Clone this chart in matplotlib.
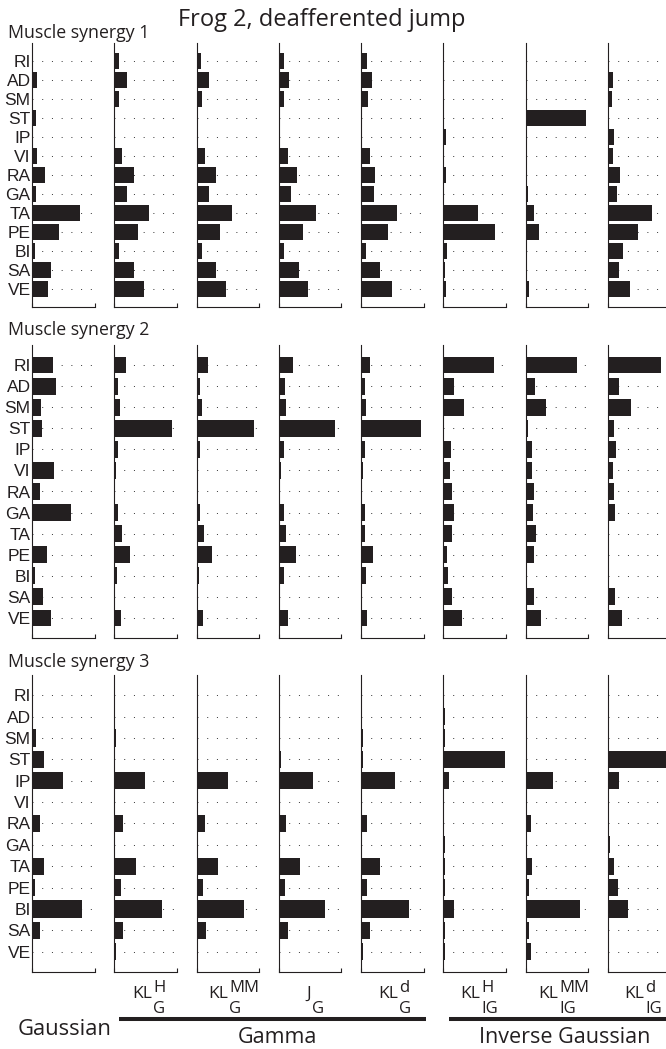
import numpy as np
import matplotlib
matplotlib.use("Agg")
import matplotlib.pyplot as plt

muscles = ["RI", "AD", "SM", "ST", "IP", "VI", "RA", "GA", "TA", "PE", "BI", "SA", "VE"]
methods = ["Gaussian", "KLH_G", "KLMM_G", "J_G", "KLd_G", "KLH_IG", "KLMM_IG", "KLd_IG"]

# synergy weights, one list per method (muscle order as above)
syn1 = [
    [0.005, 0.075, 0.0, 0.06, 0.01, 0.075, 0.20, 0.06, 0.765, 0.43, 0.043, 0.31, 0.26],
    [0.075, 0.21, 0.08, 0.005, 0.005, 0.13, 0.31, 0.20, 0.56, 0.38, 0.075, 0.31, 0.47],
    [0.07, 0.20, 0.08, 0.005, 0.016, 0.13, 0.31, 0.20, 0.57, 0.38, 0.085, 0.31, 0.47],
    [0.08, 0.17, 0.09, 0.005, 0.005, 0.14, 0.29, 0.20, 0.59, 0.39, 0.09, 0.32, 0.47],
    [0.09, 0.17, 0.11, 0.01, 0.01, 0.14, 0.22, 0.20, 0.57, 0.43, 0.075, 0.30, 0.49],
    [0.005, 0.01, 0.005, 0.005, 0.037, 0.01, 0.048, 0.016, 0.55, 0.82, 0.058, 0.02, 0.048],
    [0.02, 0.02, 0.016, 0.96, 0.005, 0.005, 0.005, 0.037, 0.14, 0.22, 0.01, 0.016, 0.053],
    [0.016, 0.085, 0.064, 0.016, 0.106, 0.085, 0.19, 0.15, 0.70, 0.48, 0.24, 0.18, 0.36],
]
syn2 = [
    [0.33, 0.38, 0.14, 0.16, 0.005, 0.35, 0.12, 0.62, 0.005, 0.24, 0.043, 0.175, 0.30],
    [0.19, 0.058, 0.09, 0.925, 0.058, 0.02, 0.005, 0.058, 0.117, 0.245, 0.043, 0.005, 0.10],
    [0.19, 0.058, 0.09, 0.925, 0.053, 0.02, 0.005, 0.058, 0.117, 0.245, 0.037, 0.01, 0.10],
    [0.22, 0.10, 0.117, 0.90, 0.09, 0.032, 0.005, 0.085, 0.12, 0.28, 0.09, 0.016, 0.14],
    [0.14, 0.064, 0.075, 0.95, 0.064, 0.027, 0.01, 0.058, 0.064, 0.19, 0.08, 0.01, 0.096],
    [0.81, 0.165, 0.33, 0.016, 0.12, 0.10, 0.14, 0.165, 0.14, 0.053, 0.08, 0.14, 0.30],
    [0.82, 0.155, 0.33, 0.032, 0.096, 0.096, 0.128, 0.12, 0.175, 0.14, 0.01, 0.13, 0.255],
    [0.85, 0.175, 0.37, 0.10, 0.133, 0.09, 0.106, 0.11, 0.01, 0.01, 0.016, 0.11, 0.22],
]
syn3 = [
    [0.005, 0.005, 0.06, 0.185, 0.49, 0.005, 0.12, 0.0, 0.185, 0.048, 0.80, 0.12, 0.005],
    [0.005, 0.005, 0.027, 0.016, 0.49, 0.005, 0.144, 0.016, 0.34, 0.10, 0.765, 0.144, 0.02],
    [0.005, 0.005, 0.027, 0.02, 0.495, 0.016, 0.14, 0.016, 0.335, 0.10, 0.765, 0.144, 0.027],
    [0.005, 0.005, 0.027, 0.037, 0.54, 0.005, 0.117, 0.016, 0.335, 0.096, 0.745, 0.155, 0.02],
    [0.016, 0.016, 0.032, 0.032, 0.54, 0.02, 0.09, 0.02, 0.31, 0.09, 0.765, 0.15, 0.027],
    [0.005, 0.02, 0.02, 0.98, 0.09, 0.01, 0.01, 0.02, 0.02, 0.02, 0.175, 0.02, 0.032],
    [0.016, 0.016, 0.016, 0.016, 0.435, 0.016, 0.08, 0.016, 0.10, 0.058, 0.877, 0.058, 0.08],
    [0.02, 0.02, 0.02, 0.93, 0.186, 0.016, 0.016, 0.037, 0.096, 0.17, 0.325, 0.016, 0.016],
]
synergies = [syn1, syn2, syn3]
syn_titles = ["Muscle synergy 1", "Muscle synergy 2", "Muscle synergy 3"]

# method labels under columns 2..8: (main, superscript, subscript)
col_labels = [("KL", "H", "G"), ("KL", "MM", "G"), ("J", "", "G"), ("KL", "d", "G"),
              ("KL", "H", "IG"), ("KL", "MM", "IG"), ("KL", "d", "IG")]

W, H = 666, 1049
BLK = "#231f20"
FONT = "Open Sans"

fig = plt.figure(figsize=(W / 100, H / 100), dpi=100)


def fx(x):
    return x / W


def fy(y):
    return 1 - y / H


row_top = [43, 345, 675]
row_bot = [307, 638, 972]
col_left = [32 + 82.25 * c for c in range(8)]
col_w = 62.7
ypos = np.arange(1, len(muscles) + 1)

for r, syn in enumerate(synergies):
    for c, vals in enumerate(syn):
        ax = fig.add_axes([fx(col_left[c]), fy(row_bot[r]), col_w / W, (row_bot[r] - row_top[r]) / H])
        ax.barh(ypos, vals, height=0.8, color=BLK, zorder=3)
        ax.set_xlim(0, 1)
        ax.set_ylim(13.95, 0.05)
        ax.set_yticks(ypos)
        ax.grid(axis="y", linestyle=(0, (1, 9)), linewidth=0.7, color="#333333", zorder=0)
        ax.set_axisbelow(True)
        ax.set_xticks([0, 1])
        ax.tick_params(axis="x", direction="in", length=3, width=0.8, color=BLK, labelbottom=False)
        ax.tick_params(axis="y", length=0, pad=1)
        if c == 0:
            ax.set_yticklabels(muscles, fontsize=12.5, family="Liberation Sans", color=BLK)
        else:
            ax.set_yticklabels([])
        for s in ["top", "right"]:
            ax.spines[s].set_visible(False)
        for s in ["left", "bottom"]:
            ax.spines[s].set_color(BLK)
            ax.spines[s].set_linewidth(0.8)

fig.text(fx(321.5), fy(26), "Frog 2, deafferented jump", family=FONT, fontsize=17,
         ha="center", va="baseline", color=BLK)
for r, t in enumerate(syn_titles):
    fig.text(fx(8), fy([38, 335, 667][r]), t, family=FONT, fontsize=12.8,
             ha="left", va="baseline", color=BLK)

# method names under the columns
main_right = [152, 228, 311, 397.7, 480, 558, 644]
for (main, sup, sub), xr in zip(col_labels, main_right):
    fig.text(fx(xr), fy(998), main, family=FONT, fontsize=12.5, ha="right", va="baseline", color=BLK)
    if sup:
        fig.text(fx(xr + 1), fy(992), sup, family=FONT, fontsize=12, ha="left", va="baseline", color=BLK)
    fig.text(fx(xr + 1), fy(1013), sub, family=FONT, fontsize=12, ha="left", va="baseline", color=BLK)

fig.text(fx(18), fy(1035), "Gaussian", family=FONT, fontsize=15.8, ha="left", va="baseline", color=BLK)
fig.text(fx(277.5), fy(1043), "Gamma", family=FONT, fontsize=15.5, ha="center", va="baseline", color=BLK)
fig.text(fx(564.5), fy(1043), "Inverse Gaussian", family=FONT, fontsize=15.5, ha="center", va="baseline", color=BLK)

fig.add_artist(plt.Line2D([fx(119), fx(426)], [fy(1019), fy(1019)], lw=2.9, color=BLK, solid_capstyle="butt"))
fig.add_artist(plt.Line2D([fx(449), fx(670)], [fy(1019), fy(1019)], lw=2.9, color=BLK, solid_capstyle="butt"))

fig.savefig("out.png", dpi=100, facecolor="white")
